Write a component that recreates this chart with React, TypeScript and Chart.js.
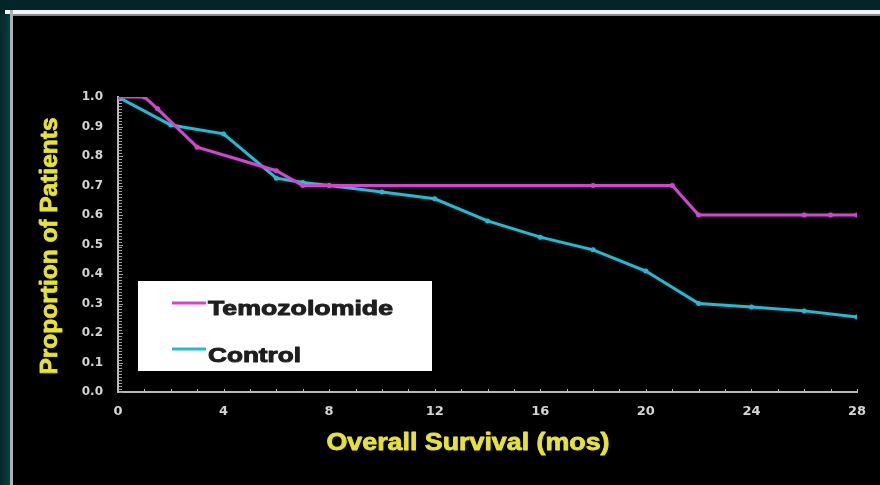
import React, { useEffect, useRef } from "react";
import { Chart, registerables } from "chart.js";

Chart.register(...registerables);

// ---- data ----
const TMZ_MONTHS = [0, 1, 1.5, 3, 6, 7, 18, 21, 22, 26, 27, 28];
const TMZ_VALUES = [1.0, 1.0, 0.96, 0.83, 0.75, 0.7, 0.7, 0.7, 0.6, 0.6, 0.6, 0.6];
const CTRL_MONTHS = [0, 2, 4, 6, 7, 8, 10, 12, 14, 16, 18, 20, 22, 24, 26, 28];
const CTRL_VALUES = [1.0, 0.905, 0.875, 0.725, 0.71, 0.7, 0.678, 0.655, 0.58, 0.525, 0.482, 0.41, 0.3, 0.288, 0.275, 0.254];
const SERIES_LABELS = ["Temozolomide", "Control"];
const X_TITLE = "Overall Survival (mos)";
const Y_TITLE = "Proportion of Patients";

const MAGENTA = "#cc48cc";
const CYAN = "#2cb6cf";
const YELLOW = "#e6e23a";
const TICK_COLOR = "#d4d4d4";
const AXIS_COLOR = "#b8b8b8";

function stretchText(
  ctx: CanvasRenderingContext2D,
  text: string,
  x: number,
  y: number,
  font: string,
  width: number,
  align: CanvasTextAlign,
  thicken: number
) {
  ctx.save();
  ctx.font = font;
  const w = ctx.measureText(text).width;
  const s = width / w;
  ctx.translate(x, y);
  ctx.scale(s, 1);
  ctx.textAlign = align;
  ctx.textBaseline = "alphabetic";
  ctx.fillText(text, 0, 0);
  if (thicken > 0) {
    ctx.strokeStyle = ctx.fillStyle;
    ctx.lineWidth = thicken;
    ctx.lineJoin = "round";
    ctx.strokeText(text, 0, 0);
  }
  ctx.restore();
}

const framePlugin = {
  id: "frame",
  beforeDraw(chart: any) {
    const ctx = chart.ctx as CanvasRenderingContext2D;
    const W = chart.width;
    const H = chart.height;
    ctx.save();
    ctx.fillStyle = "#03252a";
    ctx.fillRect(0, 0, W, H);
    const g = ctx.createLinearGradient(0, 0, 10, 0);
    g.addColorStop(0, "#03252a");
    g.addColorStop(1, "#07403f");
    ctx.fillStyle = g;
    ctx.fillRect(0, 14, 10, H - 14);
    ctx.fillStyle = "#f4f4f4";
    ctx.fillRect(5, 10, W - 5, 4);
    ctx.fillStyle = "#8a8a8a";
    ctx.fillRect(10, 14, W - 10, 2);
    ctx.fillStyle = "#b0b0b0";
    ctx.fillRect(10, 10, 3, H - 10);
    ctx.fillStyle = "#000000";
    ctx.fillRect(13, 16, W - 13, H - 16);
    ctx.restore();
  },
  beforeDatasetsDraw(chart: any) {
    const ctx = chart.ctx as CanvasRenderingContext2D;
    const xs = chart.scales.x;
    const ys = chart.scales.y;
    const area = chart.chartArea;
    ctx.save();
    ctx.strokeStyle = AXIS_COLOR;
    ctx.lineWidth = 1;
    for (let m = xs.min; m <= xs.max; m += 1) {
      const px = Math.round(xs.getPixelForValue(m)) + 0.5;
      ctx.beginPath();
      ctx.moveTo(px, area.bottom);
      ctx.lineTo(px, area.bottom - 3);
      ctx.stroke();
    }
    ctx.strokeStyle = "#a0a0a0";
    for (let i = 0; i <= 100; i++) {
      const py = Math.round(ys.getPixelForValue(i / 100)) + 0.5;
      ctx.beginPath();
      ctx.moveTo(area.left + 1, py);
      ctx.lineTo(area.left + (i % 10 === 0 ? 5 : 4), py);
      ctx.stroke();
    }
    ctx.restore();
    ctx.save();
    ctx.shadowBlur = 4;
    ctx.shadowColor = "rgba(255,255,255,0.15)";
  },
  afterDatasetsDraw(chart: any) {
    chart.ctx.restore();
  },
  afterDraw(chart: any) {
    const ctx = chart.ctx as CanvasRenderingContext2D;
    ctx.save();
    ctx.fillStyle = YELLOW;
    stretchText(ctx, X_TITLE, 468, 450, "bold 23px 'Liberation Sans', Arial, sans-serif", 283, "center", 0.8);
    ctx.translate(57, 246);
    ctx.rotate(-Math.PI / 2);
    stretchText(ctx, Y_TITLE, 0, 0, "bold 24px 'Liberation Sans', Arial, sans-serif", 257, "center", 0.8);
    ctx.restore();

    ctx.save();
    ctx.fillStyle = "#ffffff";
    ctx.fillRect(138, 281, 294, 90);
    const entries = [
      { lineY: 303, baseY: 315, width: 185 },
      { lineY: 349, baseY: 362, width: 93 },
    ];
    chart.data.datasets.forEach((ds: any, i: number) => {
      const e = entries[i];
      ctx.strokeStyle = ds.borderColor;
      ctx.lineWidth = 3;
      ctx.beginPath();
      ctx.moveTo(172, e.lineY);
      ctx.lineTo(206, e.lineY);
      ctx.stroke();
      ctx.fillStyle = "#1e1e1e";
      stretchText(ctx, ds.label, 208, e.baseY, "bold 21px 'Liberation Sans', Arial, sans-serif", e.width, "left", 1);
    });
    ctx.restore();
  },
};

export default function App() {
  const ref = useRef<HTMLCanvasElement | null>(null);
  useEffect(() => {
    if (!ref.current) return;
    const chart = new Chart(ref.current, {
      type: "line",
      data: {
        datasets: [
          {
            label: SERIES_LABELS[0],
            data: TMZ_MONTHS.map((m, i) => ({ x: m, y: TMZ_VALUES[i] })),
            borderColor: MAGENTA,
            backgroundColor: MAGENTA,
            borderWidth: 3,
            pointRadius: 2.5,
            pointBorderWidth: 0,
            tension: 0,
          },
          {
            label: SERIES_LABELS[1],
            data: CTRL_MONTHS.map((m, i) => ({ x: m, y: CTRL_VALUES[i] })),
            borderColor: CYAN,
            backgroundColor: CYAN,
            borderWidth: 3,
            pointRadius: 2.5,
            pointBorderWidth: 0,
            tension: 0,
          },
        ],
      },
      options: {
        responsive: false,
        animation: false,
        layout: { padding: { left: 68, right: 23, top: 97, bottom: 63 } },
        plugins: { legend: { display: false }, tooltip: { enabled: false } },
        scales: {
          x: {
            type: "linear",
            min: 0,
            max: 28,
            afterFit: (s: any) => {
              s.height = 30;
            },
            grid: { display: false, drawTicks: false },
            border: { display: true, color: AXIS_COLOR, width: 2 },
            ticks: {
              stepSize: 4,
              padding: 12,
              color: TICK_COLOR,
              font: { family: "'DejaVu Sans'", size: 13, weight: "bold" },
              maxRotation: 0,
            },
          },
          y: {
            type: "linear",
            min: 0,
            max: 1,
            afterFit: (s: any) => {
              s.width = 50;
            },
            grid: { display: false, drawTicks: false },
            border: { display: true, color: AXIS_COLOR, width: 2 },
            ticks: {
              stepSize: 0.1,
              padding: 15,
              color: TICK_COLOR,
              font: { family: "'DejaVu Sans'", size: 12, weight: "bold" },
              callback: (v: any) => Number(v).toFixed(1),
            },
          },
        },
      },
      plugins: [framePlugin],
    } as any);
    return () => chart.destroy();
  }, []);
  return (
    <div style={{ position: "fixed", left: 0, top: 0, width: 880, height: 485 }}>
      <canvas ref={ref} width={880} height={485} style={{ display: "block" }} />
    </div>
  );
}
